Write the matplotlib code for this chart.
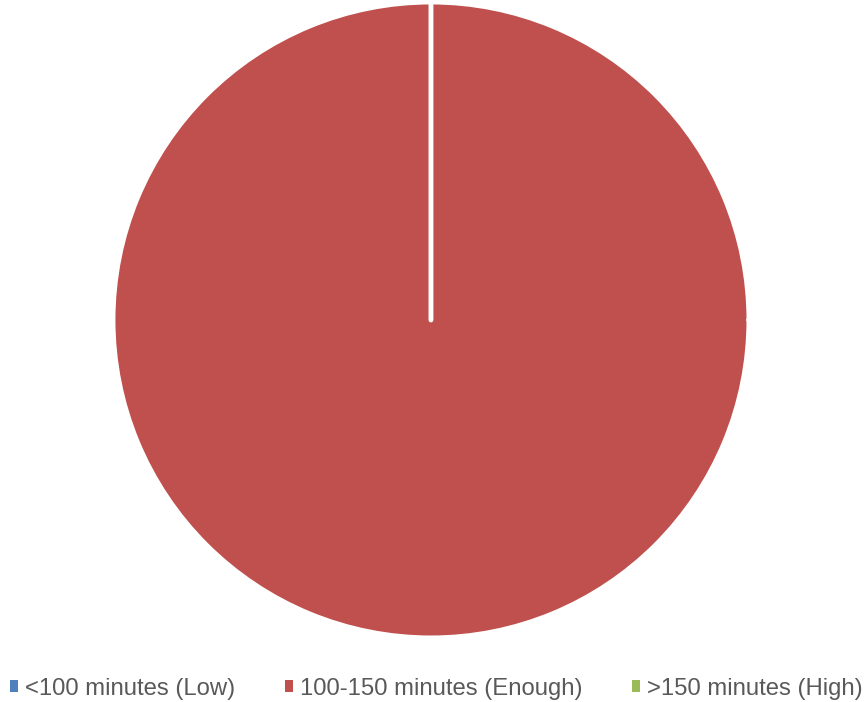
import matplotlib.pyplot as plt
from matplotlib.patches import Patch

labels = ["<100 minutes (Low)", "100-150 minutes (Enough)", ">150 minutes (High)"]
values = [0, 100, 0]
colors = ["#4F81BD", "#C0504D", "#9BBB59"]

plt.rcParams["font.family"] = ["Liberation Sans", "DejaVu Sans"]

fig = plt.figure(figsize=(8.64, 7.02), dpi=100)
ax = fig.add_axes([0.1308, 0.0912, 0.736, 0.906])

ax.pie(
    values,
    colors=colors,
    startangle=90,
    counterclock=False,
    wedgeprops=dict(edgecolor="white", linewidth=3.5, capstyle="round"),
)
ax.set_xlim(-1, 1)
ax.set_ylim(-1, 1)
ax.set_aspect("equal")

handles = [Patch(facecolor=c, edgecolor="none") for c in colors]
fig.legend(
    handles, labels,
    loc="center", bbox_to_anchor=(0.505, 0.019), ncol=3,
    frameon=False, fontsize=17.2, labelcolor="#595959",
    handlelength=0.35, handleheight=0.35, handletextpad=0.3,
    columnspacing=2.05,
)

fig.savefig("out.png", dpi=100)
